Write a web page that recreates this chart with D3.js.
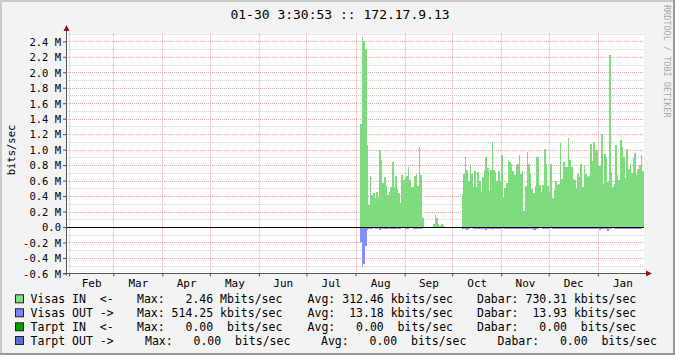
<!DOCTYPE html>
<html>
<head>
<meta charset="utf-8">
<script src="https://cdn.jsdelivr.net/npm/d3@7"></script>
<style>
  html, body { margin: 0; padding: 0; background: #f3f3f3; }
  svg { display: block; }
  text { font-family: "DejaVu Sans Mono", monospace; white-space: pre; }
</style>
</head>
<body>
<svg id="chart" width="675" height="355"></svg>
<script>
// traffic, daily averages. IN in Mbit/s, OUT in kbit/s
const inAugStart = new Date(2010, 7, 4);
const inAug = [1.33, 2.46, 2.41, 2.30, 1.06, 0.28, 0.66, 0.41, 0.44, 0.37,
  0.45, 0.37, 0.99, 0.87, 0.57, 0.65, 0.53, 0.41, 0.45, 0.52,
  0.84, 0.52, 0.66, 0.49, 0.44, 0.31, 0.67, 0.61, 0.63, 0.66,
  0.78, 0.61, 0.52, 0.52, 0.66, 0.68, 0.53, 1.04, 0.67, 0.12,
  0, 0, 0, 0, 0, 0, 0.04, 0.155, 0.11, 0.04,
  0.01, 0.035, 0.02];
const outAug = [190, 514, 480, 240, 34, 24, 20, 26, 0, 24,
  21, 0, 34, 26, 24, 20, 24, 26, 0, 20,
  24, 26, 21, 0, 24, 20, 0, 0, 26, 24,
  21, 0, 0, 24, 26, 20, 24, 21, 26, 16,
  0, 0, 0, 0, 0, 0, 0, 0, 0, 0,
  0, 0, 0];

const inOctStart = new Date(2010, 9, 7);
const inOct = [0.43, 0.68, 0.91, 0.74, 0.59, 0.81, 0.68, 0.52, 0.73, 0.52,
  0.71, 0.59, 0.45, 0.65, 0.74, 0.90, 0.76, 0.47, 0.74, 1.10,
  0.74, 0.71, 0.59, 0.73, 0.59, 0.93, 0.39, 0.51, 0.57, 0.86,
  0.84, 0.81, 0.73, 0.67, 0.80, 0.81, 0.93, 0.69, 0.73, 0.21,
  0.53, 0.97, 0.81, 0.69, 0.49, 0.44, 0.53, 0.91, 0.90, 0.54,
  0.45, 0.54, 1.01, 0.81, 0.53, 0.46, 0.82,
  0.37, 0.48, 0.59, 0.54, 0.55, 1.09, 0.62, 0.84, 0.78, 0.77,
  1.15, 0.87, 0.78, 0.62, 0.61, 0.49, 0.68, 0.65, 0.81, 0.52,
  0.80, 0.69, 0.65, 0.66, 1.07, 0.85, 1.10, 1.00, 1.00, 0.80,
  0.79, 1.20, 0.56, 0.94, 0.90, 0.58, 2.22, 0.71, 0.52, 0.55,
  1.06, 0.67, 0.61, 1.12, 1.03, 0.91, 0.63, 1.01, 0.75, 0.81,
  0.70, 0.89, 0.96, 0.67, 0.75, 0.80, 0.93, 0.73];
const outOct = [24, 26, 21, 42, 24, 0, 0, 26, 24, 20,
  26, 28, 24, 21, 26, 45, 24, 26, 20, 40,
  24, 26, 28, 24, 21, 26, 0, 24, 26, 28,
  24, 21, 26, 24, 28, 26, 24, 21, 26, 24,
  28, 26, 24, 21, 26, 40, 40, 24, 26, 0,
  0, 24, 26, 21, 24, 26, 0, 24, 26, 28,
  24, 21, 26, 24, 26, 28, 24, 21, 26, 24,
  26, 28, 24, 21, 26, 24, 28, 26, 24, 21,
  26, 24, 28, 26, 24, 21, 0, 40, 24, 26,
  24, 28, 52, 26, 24, 0, 24, 26, 21, 24,
  26, 28, 24, 21, 26, 24, 26, 28, 24, 21,
  26, 24, 21, 24, 18];

const monthLabels = ["Feb", "Mar", "Apr", "May", "Jun", "Jul", "Aug", "Sep", "Oct", "Nov", "Dec", "Jan"];
const yTicks = [-0.6, -0.4, -0.2, 0, 0.2, 0.4, 0.6, 0.8, 1.0, 1.2, 1.4, 1.6, 1.8, 2.0, 2.2, 2.4];

const title = "01-30 3:30:53 :: 172.17.9.13";
const legendNames = ["Visas IN  <-", "Visas OUT ->", "Tarpt IN  <-", "Tarpt OUT ->"];
const legendColors = ["#80e080", "#8080ff", "#00a000", "#5470d0"];
const legendMax = ["Max:   2.46 Mbits/sec", "Max: 514.25 kbits/sec", "Max:   0.00  bits/sec", "Max:   0.00  bits/sec"];
const legendAvg = ["Avg: 312.46 kbits/sec", "Avg:  13.18 kbits/sec", "Avg:   0.00  bits/sec", "Avg:   0.00  bits/sec"];
const legendNow = ["Dabar: 730.31 kbits/sec", "Dabar:  13.93 kbits/sec", "Dabar:   0.00  bits/sec", "Dabar:   0.00  bits/sec"];

const W = 675, H = 355;
const plotLeft = 66, plotRight = 644, plotTop = 33.6, plotBottom = 273.4;

const svg = d3.select("#chart");

// frame
svg.append("rect").attr("width", W).attr("height", H).attr("fill", "#f3f3f3");
svg.append("path").attr("d", `M0,${H} V0 H${W}`).attr("fill", "none")
    .attr("stroke", "#cbcbcb").attr("stroke-width", 4);
svg.append("path").attr("d", `M0,${H} H${W} V0`).attr("fill", "none")
    .attr("stroke", "#999").attr("stroke-width", 4);

const x = d3.scaleTime()
    .domain([new Date(2010, 0, 30, 3, 30, 53), new Date(2011, 0, 30, 3, 30, 53)])
    .range([plotLeft, plotRight]);
const y = d3.scaleLinear()
    .domain([-0.6e6, 2.5e6])
    .range([plotBottom, plotTop]);

svg.append("rect")
    .attr("x", plotLeft).attr("y", plotTop)
    .attr("width", plotRight - plotLeft).attr("height", plotBottom - plotTop)
    .attr("fill", "#fff");

// grid
const grid = svg.append("g");
d3.range(-6, 26).forEach(k => {
    const yy = Math.round(y(k * 1e5)) + 0.5;
    grid.append("line")
        .attr("x1", plotLeft).attr("x2", plotRight)
        .attr("y1", yy).attr("y2", yy)
        .attr("stroke", k % 2 === 0 ? "#e8a4a4" : "#cfcfcf")
        .attr("stroke-dasharray", "1,1");
});
const monthStarts = d3.timeMonth.range(x.domain()[0], x.domain()[1]);
monthStarts.forEach(m => {
    const xx = Math.round(x(m)) + 0.5;
    grid.append("line")
        .attr("x1", xx).attr("x2", xx)
        .attr("y1", plotTop).attr("y2", plotBottom)
        .attr("stroke", "#e8a4a4")
        .attr("stroke-dasharray", "1,1");
});

// data
function series(start, vals, scale) {
    const pts = vals.map((v, i) => ({ t: d3.timeDay.offset(start, i), v: v * scale }));
    pts.push({ t: d3.timeDay.offset(start, vals.length), v: 0 });
    return pts;
}
const areaUp = d3.area()
    .curve(d3.curveStepAfter)
    .x(d => x(d.t))
    .y0(y(0))
    .y1(d => y(d.v));
const areaDown = d3.area()
    .curve(d3.curveStepAfter)
    .x(d => x(d.t))
    .y0(y(0))
    .y1(d => y(-d.v));

[[inAugStart, inAug], [inOctStart, inOct]].forEach(([s, vals]) => {
    svg.append("path")
        .datum(series(s, vals, 1e6))
        .attr("d", areaUp)
        .attr("fill", "#7edc7e")
        .attr("shape-rendering", "crispEdges");
});
[[inAugStart, outAug], [inOctStart, outOct]].forEach(([s, vals]) => {
    svg.append("path")
        .datum(series(s, vals, 1e3))
        .attr("d", areaDown)
        .attr("fill", "#8590ff")
        .attr("shape-rendering", "crispEdges");
});

// zero line
svg.append("line")
    .attr("x1", plotLeft).attr("x2", plotRight)
    .attr("y1", Math.round(y(0)) + 0.5).attr("y2", Math.round(y(0)) + 0.5)
    .attr("stroke", "#000").attr("stroke-width", 1.2);

// axes
const yAxis = svg.append("g")
    .attr("transform", "translate(67,0)")
    .call(d3.axisLeft(y)
        .tickValues(yTicks.map(v => v * 1e6))
        .tickSize(4).tickSizeOuter(0).tickPadding(2)
        .tickFormat(v => v === 0 ? "0.0" : (v / 1e6).toFixed(1) + " M"));
yAxis.select(".domain").remove();
yAxis.selectAll("line").attr("stroke", "#555");
yAxis.selectAll("text")
    .attr("font-family", "DejaVu Sans Mono")
    .attr("font-size", "10.5px").attr("fill", "#000")
    .attr("dy", "0.36em");

const xTicks = svg.append("g")
    .attr("transform", `translate(0,${plotBottom})`)
    .call(d3.axisBottom(x).tickValues(monthStarts).tickSize(3).tickFormat(""));
xTicks.select(".domain").remove();
xTicks.selectAll("line").attr("stroke", "#555");

const monthMids = monthStarts.map(m => new Date((+m + +d3.timeMonth.offset(m, 1)) / 2));
const xLabels = svg.append("g")
    .attr("transform", `translate(0,${plotBottom})`)
    .call(d3.axisBottom(x).tickValues(monthMids).tickSize(0).tickPadding(6)
        .tickFormat((d, i) => monthLabels[i]));
xLabels.select(".domain").remove();
xLabels.selectAll("text")
    .attr("font-family", "DejaVu Sans Mono")
    .attr("font-size", "11px").attr("fill", "#000");

// axis lines with arrows
svg.append("line").attr("x1", 66.5).attr("x2", 66.5).attr("y1", plotBottom + 2).attr("y2", 28)
    .attr("stroke", "#555");
svg.append("line").attr("x1", 63).attr("x2", 648).attr("y1", 273.5).attr("y2", 273.5)
    .attr("stroke", "#555");
svg.append("path").attr("d", "M63.5,31 L66.5,25 L69.5,31 Z").attr("fill", "#8b1a1a");
svg.append("path").attr("d", "M646,270.5 L652,273.5 L646,276.5 Z").attr("fill", "#8b1a1a");

// texts
svg.append("text")
    .attr("x", 340).attr("y", 18.5)
    .attr("text-anchor", "middle")
    .attr("font-size", "13px")
    .text(title);

svg.append("text")
    .attr("transform", "translate(14.5,150) rotate(-90)")
    .attr("text-anchor", "middle")
    .attr("font-size", "10.5px")
    .text("bits/sec");

svg.append("text")
    .attr("transform", "translate(664,5) rotate(90)")
    .attr("font-size", "8.5px")
    .attr("fill", "#a8a8a8")
    .text("RRDTOOL / TOBI OETIKER");

// legend
const rowY = [299.3, 313.3, 327.3, 341];
const colX = [[137, 307.6, 477], [137, 307.6, 477], [137, 307.6, 477], [145, 321, 497.6]];
const legend = svg.append("g").attr("font-size", "11.5px");
legendNames.forEach((name, i) => {
    legend.append("rect")
        .attr("x", 15.5).attr("y", rowY[i] - 4.5)
        .attr("width", 8).attr("height", 8)
        .attr("fill", legendColors[i])
        .attr("stroke", "#222");
    legend.append("text").attr("x", 30.5).attr("y", rowY[i] + 4).text(name);
    [legendMax[i], legendAvg[i], legendNow[i]].forEach((s, j) => {
        legend.append("text").attr("x", colX[i][j]).attr("y", rowY[i] + 4).text(s);
    });
});
</script>
</body>
</html>
